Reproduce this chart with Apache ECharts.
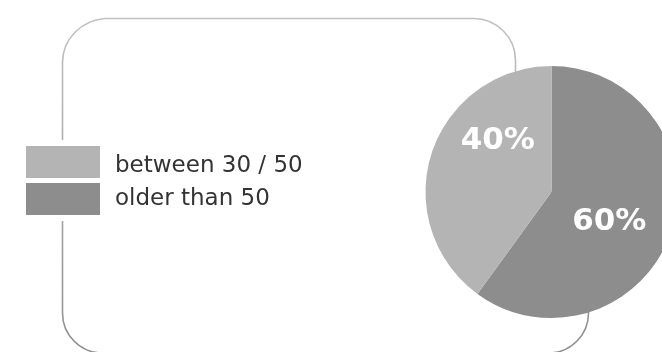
<!DOCTYPE html>
<html>
<head>
<meta charset="utf-8">
<style>
  html, body { margin: 0; padding: 0; background: #ffffff; }
  #chart { width: 662px; height: 352px; }
</style>
<script src="https://cdn.jsdelivr.net/npm/echarts@6/dist/echarts.min.js"></script>
</head>
<body>
<div id="chart"></div>
<script>
// Age groups and their shares (percent)
const categories = ['older than 50', 'between 30 / 50'];
const shares = [60, 40];
const legendOrder = ['between 30 / 50', 'older than 50'];
const sliceColors = { 'older than 50': '#8d8d8d', 'between 30 / 50': '#b4b4b4' };

// Nudges for the percentage labels inside each slice
const labelNudge = { 'older than 50': [-5, 10], 'between 30 / 50': [9, -31] };

const chart = echarts.init(document.getElementById('chart'), null, { renderer: 'canvas' });

// Rounded frame behind the legend and the pie
const framePath = [
  'M 62.5 62.5',
  'C 62.5 39.3 81.3 20.5 104.5 18.5',
  'L 473.5 18.5',
  'C 496.7 18.5 515.5 37.3 515.5 60.5',
  'L 515.5 100',
  'L 588.5 290',
  'L 588.5 313',
  'C 588.5 335.1 570.6 353 548.5 353',
  'L 102.5 353',
  'C 80.4 353 62.5 335.1 62.5 313',
  'Z'
].join(' ');

const legendFont = { fontFamily: 'DejaVu Sans', fontSize: 23, color: '#333333' };

chart.setOption({
  animation: false,
  backgroundColor: '#ffffff',
  legend: {
    data: legendOrder,
    orient: 'vertical',
    left: 20,
    top: 140,
    padding: 6,
    backgroundColor: '#ffffff',
    icon: 'rect',
    itemWidth: 74,
    itemHeight: 32,
    itemGap: 5,
    selectedMode: false,
    z: 10,
    // the first entry sits a little lower beside its swatch
    formatter: name => (name === legendOrder[0] ? '{low|' + name + '}' : '{std|' + name + '}'),
    textStyle: Object.assign({
      rich: {
        low: Object.assign({ padding: [8, 0, 0, 10] }, legendFont),
        std: Object.assign({ padding: [0, 0, 0, 10] }, legendFont)
      }
    }, legendFont)
  },
  series: [{
    // the frame
    type: 'custom',
    coordinateSystem: 'none',
    silent: true,
    z: 0,
    data: [0],
    renderItem: () => ({
      type: 'path',
      shape: { pathData: framePath },
      style: {
        fill: 'none',
        lineWidth: 1.6,
        stroke: new echarts.graphic.LinearGradient(0, 0, 0, 1, [
          { offset: 0, color: '#c2c2c2' },
          { offset: 1, color: '#8e8e8e' }
        ])
      }
    })
  }, {
    type: 'pie',
    z: 5,
    center: [551.5, 192],
    radius: [0, 126],
    startAngle: 90,
    clockwise: true,
    silent: true,
    emphasis: { disabled: true },
    label: {
      show: true,
      position: 'inside',
      formatter: '{c}%',
      color: '#ffffff',
      fontFamily: 'DejaVu Sans',
      fontWeight: 'bold',
      fontSize: 31
    },
    labelLine: { show: false },
    labelLayout: params => {
      const n = labelNudge[categories[params.dataIndex]];
      return { dx: n[0], dy: n[1] };
    },
    itemStyle: { borderWidth: 0 },
    data: categories.map((name, i) => ({
      name: name,
      value: shares[i],
      itemStyle: { color: sliceColors[name] }
    }))
  }]
});
</script>
</body>
</html>
